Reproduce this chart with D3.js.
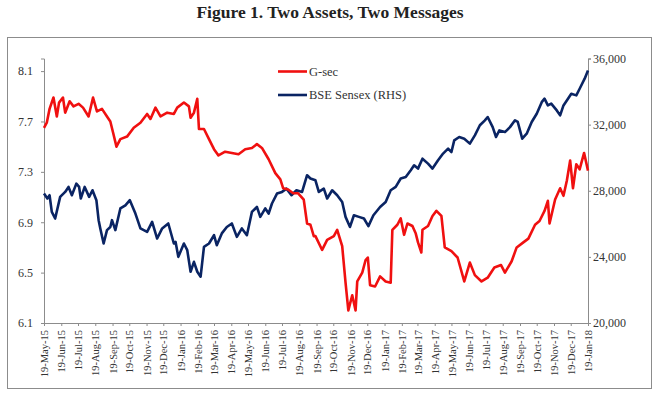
<!DOCTYPE html>
<html>
<head>
<meta charset="utf-8">
<script src="https://cdn.jsdelivr.net/npm/d3@7"></script>
<style>
  body { margin: 0; background: #fff; }
  svg { display: block; font-family: "Liberation Serif", "DejaVu Serif", serif; }
</style>
</head>
<body>
<div id="chart"></div>
<script>
// tick labels
var xTickLabels = ["19-May-15","19-Jun-15","19-Jul-15","19-Aug-15","19-Sep-15","19-Oct-15","19-Nov-15",
  "19-Dec-15","19-Jan-16","19-Feb-16","19-Mar-16","19-Apr-16","19-May-16","19-Jun-16","19-Jul-16",
  "19-Aug-16","19-Sep-16","19-Oct-16","19-Nov-16","19-Dec-16","19-Jan-17","19-Feb-17","19-Mar-17",
  "19-Apr-17","19-May-17","19-Jun-17","19-Jul-17","19-Aug-17","19-Sep-17","19-Oct-17","19-Nov-17",
  "19-Dec-17","19-Jan-18"];
var leftTicks = [6.1, 6.5, 6.9, 7.3, 7.7, 8.1];
var rightTicks = [20000, 24000, 28000, 32000, 36000];

// 10-year G-sec yield (%)
var gsec = [
  ["2015-05-19",7.65],["2015-05-24",7.69],["2015-05-29",7.80],["2015-06-05",7.89],["2015-06-11",7.74],
  ["2015-06-15",7.85],["2015-06-22",7.89],["2015-06-26",7.77],["2015-07-04",7.86],["2015-07-11",7.82],
  ["2015-07-20",7.84],["2015-07-28",7.81],["2015-08-07",7.74],["2015-08-15",7.89],["2015-08-22",7.78],
  ["2015-08-31",7.80],["2015-09-09",7.74],["2015-09-15",7.70],["2015-09-20",7.61],["2015-09-26",7.50],
  ["2015-10-03",7.56],["2015-10-15",7.58],["2015-10-27",7.65],["2015-11-08",7.69],["2015-11-20",7.76],
  ["2015-11-26",7.72],["2015-12-05",7.81],["2015-12-14",7.74],["2015-12-26",7.77],["2016-01-07",7.76],
  ["2016-01-13",7.81],["2016-01-25",7.85],["2016-02-03",7.82],["2016-02-06",7.73],["2016-02-12",7.77],
  ["2016-02-18",7.88],["2016-02-21",7.64],["2016-03-01",7.64],["2016-03-10",7.56],["2016-03-19",7.48],
  ["2016-03-27",7.43],["2016-04-08",7.46],["2016-04-20",7.45],["2016-05-02",7.44],["2016-05-14",7.48],
  ["2016-05-26",7.49],["2016-06-04",7.52],["2016-06-13",7.49],["2016-06-25",7.40],["2016-07-07",7.29],
  ["2016-07-16",7.24],["2016-07-21",7.17],["2016-07-30",7.16],["2016-08-08",7.13],["2016-08-17",7.13],
  ["2016-08-27",7.08],["2016-09-02",6.89],["2016-09-08",6.88],["2016-09-14",6.79],["2016-09-17",6.79],
  ["2016-09-29",6.68],["2016-10-08",6.76],["2016-10-20",6.79],["2016-10-26",6.84],["2016-11-04",6.71],
  ["2016-11-10",6.42],["2016-11-15",6.20],["2016-11-22",6.32],["2016-11-28",6.20],["2016-12-01",6.43],
  ["2016-12-10",6.50],["2016-12-16",6.60],["2016-12-20",6.62],["2016-12-24",6.40],["2017-01-02",6.39],
  ["2017-01-11",6.47],["2017-01-21",6.43],["2017-01-30",6.42],["2017-02-02",6.84],["2017-02-11",6.88],
  ["2017-02-17",6.93],["2017-02-23",6.80],["2017-03-01",6.89],["2017-03-10",6.87],["2017-03-16",6.81],
  ["2017-03-20",6.74],["2017-03-26",6.66],["2017-03-28",6.84],["2017-04-07",6.87],["2017-04-15",6.95],
  ["2017-04-22",6.99],["2017-05-01",6.95],["2017-05-07",6.70],["2017-05-19",6.67],["2017-05-30",6.62],
  ["2017-06-11",6.43],["2017-06-21",6.58],["2017-06-30",6.48],["2017-07-12",6.43],["2017-07-23",6.46],
  ["2017-08-04",6.54],["2017-08-16",6.56],["2017-08-23",6.50],["2017-09-04",6.59],["2017-09-13",6.70],
  ["2017-09-25",6.74],["2017-10-04",6.77],["2017-10-16",6.88],["2017-10-24",6.91],["2017-11-02",6.99],
  ["2017-11-08",7.07],["2017-11-11",6.89],["2017-11-21",7.08],["2017-11-30",7.17],["2017-12-06",7.11],
  ["2017-12-12",7.23],["2017-12-18",7.39],["2017-12-23",7.17],["2017-12-29",7.36],["2018-01-04",7.32],
  ["2018-01-12",7.45],["2018-01-19",7.31]
];

// BSE Sensex (right axis)
var sensex = [
  ["2015-05-19",27830],["2015-05-25",27530],["2015-05-29",27730],["2015-06-02",26720],["2015-06-08",26320],
  ["2015-06-17",27630],["2015-06-26",27930],["2015-07-02",28230],["2015-07-08",27730],["2015-07-16",28430],
  ["2015-07-21",28230],["2015-07-24",27530],["2015-07-31",28230],["2015-08-08",27630],["2015-08-14",28030],
  ["2015-08-21",27430],["2015-08-25",26220],["2015-08-28",25720],["2015-09-03",24810],["2015-09-09",25620],
  ["2015-09-15",25810],["2015-09-18",26220],["2015-09-24",25620],["2015-10-03",26930],["2015-10-12",27120],
  ["2015-10-20",27430],["2015-10-30",26620],["2015-11-08",25720],["2015-11-20",25510],["2015-11-29",26120],
  ["2015-12-08",25110],["2015-12-17",25720],["2015-12-28",26020],["2016-01-07",24810],["2016-01-10",24910],
  ["2016-01-15",24000],["2016-01-25",24810],["2016-01-31",24410],["2016-02-06",23100],["2016-02-12",23700],
  ["2016-02-18",23100],["2016-02-24",22800],["2016-03-01",24610],["2016-03-10",24810],["2016-03-19",25310],
  ["2016-03-24",24710],["2016-04-02",25420],["2016-04-11",25810],["2016-04-20",26020],["2016-04-29",25210],
  ["2016-05-08",25720],["2016-05-17",25310],["2016-05-26",26720],["2016-06-04",27020],["2016-06-10",26420],
  ["2016-06-19",26930],["2016-06-25",26620],["2016-07-01",27230],["2016-07-10",27830],["2016-07-19",27930],
  ["2016-07-27",28130],["2016-08-05",27730],["2016-08-14",28030],["2016-08-24",27930],["2016-09-02",28940],
  ["2016-09-08",28740],["2016-09-17",28630],["2016-09-23",27930],["2016-10-02",28130],["2016-10-08",27530],
  ["2016-10-17",28030],["2016-10-26",27730],["2016-11-04",27320],["2016-11-10",26420],["2016-11-18",25810],
  ["2016-11-25",26520],["2016-12-04",26420],["2016-12-13",26320],["2016-12-21",25860],["2016-12-30",26520],
  ["2017-01-11",27020],["2017-01-21",27320],["2017-01-30",28030],["2017-02-08",28230],["2017-02-17",28740],
  ["2017-02-26",28830],["2017-03-07",29240],["2017-03-13",29540],["2017-03-20",29340],["2017-03-28",29940],
  ["2017-04-07",29640],["2017-04-15",29340],["2017-04-25",29840],["2017-05-04",30250],["2017-05-13",30550],
  ["2017-05-19",30340],["2017-05-24",31050],["2017-06-02",31250],["2017-06-11",31150],["2017-06-21",30850],
  ["2017-06-30",31350],["2017-07-09",31960],["2017-07-18",32260],["2017-07-23",32460],["2017-08-01",31850],
  ["2017-08-07",31250],["2017-08-13",31650],["2017-08-23",31550],["2017-09-01",31850],["2017-09-10",32260],
  ["2017-09-15",32160],["2017-09-23",31150],["2017-10-01",31450],["2017-10-10",32160],["2017-10-19",32660],
  ["2017-10-28",33360],["2017-11-02",33570],["2017-11-08",33160],["2017-11-14",33270],["2017-11-24",32860],
  ["2017-11-30",32560],["2017-12-06",33160],["2017-12-12",33460],["2017-12-20",33870],["2017-12-29",33770],
  ["2018-01-04",34170],["2018-01-13",34780],["2018-01-19",35280]
];

var W = 660, H = 396;
var svg = d3.select("#chart").append("svg")
    .attr("width", W)
    .attr("height", H);

var parseIso = d3.timeParse("%Y-%m-%d");
var parseTick = d3.timeParse("%d-%b-%y");
var tickDates = xTickLabels.map(parseTick);

var x = d3.scaleTime()
    .domain([tickDates[0], tickDates[tickDates.length - 1]])
    .range([44, 588]);
var yL = d3.scaleLinear().domain([6.1, 8.2]).range([323, 58.5]);
var yR = d3.scaleLinear().domain([20000, 36000]).range([323, 58.5]);

// title
svg.append("text")
    .attr("x", 330).attr("y", 18)
    .attr("text-anchor", "middle")
    .style("font-size", "17.5px")
    .style("font-weight", "bold")
    .style("fill", "#222")
    .text("Figure 1. Two Assets, Two Messages");

// frame
svg.append("rect")
    .attr("x", 7.5).attr("y", 37.5)
    .attr("width", 644).attr("height", 351)
    .attr("fill", "none")
    .attr("stroke", "#8c8c8c")
    .attr("stroke-width", 1);

var axisColor = "#8c8c8c";

var gx = svg.append("g")
    .attr("transform", "translate(0,323)")
    .call(d3.axisBottom(x).tickValues(tickDates).tickSizeOuter(0).tickSize(3)
      .tickFormat(function(d, i) { return xTickLabels[i]; }));
gx.selectAll("text")
    .attr("transform", "rotate(-90)")
    .attr("x", -7).attr("y", 0).attr("dy", "0.35em")
    .style("text-anchor", "end")
    .style("font-size", "10.5px");

var gl = svg.append("g")
    .attr("transform", "translate(44,0)")
    .call(d3.axisLeft(yL).tickValues(leftTicks).tickSizeOuter(0).tickSize(3)
      .tickFormat(d3.format(".1f")));
gl.selectAll("text").attr("x", -11).style("font-size", "12px");

var gr = svg.append("g")
    .attr("transform", "translate(588,0)")
    .call(d3.axisRight(yR).tickValues(rightTicks).tickSizeOuter(0).tickSize(3)
      .tickFormat(d3.format(",")));
gr.selectAll("text").attr("x", 5).style("font-size", "12px");

[gx, gl, gr].forEach(function(g) {
  g.selectAll("path, line").attr("stroke", axisColor);
  g.selectAll("text").style("fill", "#333").style("font-family", "Liberation Serif, serif");
});

var lineL = d3.line()
    .x(function(d) { return x(parseIso(d[0])); })
    .y(function(d) { return yL(d[1]); });
var lineR = d3.line()
    .x(function(d) { return x(parseIso(d[0])); })
    .y(function(d) { return yR(d[1]); });

svg.append("path")
    .datum(sensex)
    .attr("d", lineR)
    .attr("fill", "none")
    .attr("stroke", "#0a2463")
    .attr("stroke-width", 2.6)
    .attr("stroke-linejoin", "round");

svg.append("path")
    .datum(gsec)
    .attr("d", lineL)
    .attr("fill", "none")
    .attr("stroke", "#f01010")
    .attr("stroke-width", 2.6)
    .attr("stroke-linejoin", "round");

// legend
var legend = [
  { name: "G-sec", color: "#f01010", y: 71.5 },
  { name: "BSE Sensex (RHS)", color: "#0a2463", y: 95 }
];
var lg = svg.append("g").selectAll("g").data(legend).enter().append("g");
lg.append("line")
    .attr("x1", 278).attr("x2", 307)
    .attr("y1", function(d) { return d.y; }).attr("y2", function(d) { return d.y; })
    .attr("stroke", function(d) { return d.color; })
    .attr("stroke-width", 2.6);
lg.append("text")
    .attr("x", 309).attr("y", function(d) { return d.y; })
    .attr("dy", "0.35em")
    .style("font-size", "12.5px")
    .style("fill", "#333")
    .text(function(d) { return d.name; });
</script>
</body>
</html>
